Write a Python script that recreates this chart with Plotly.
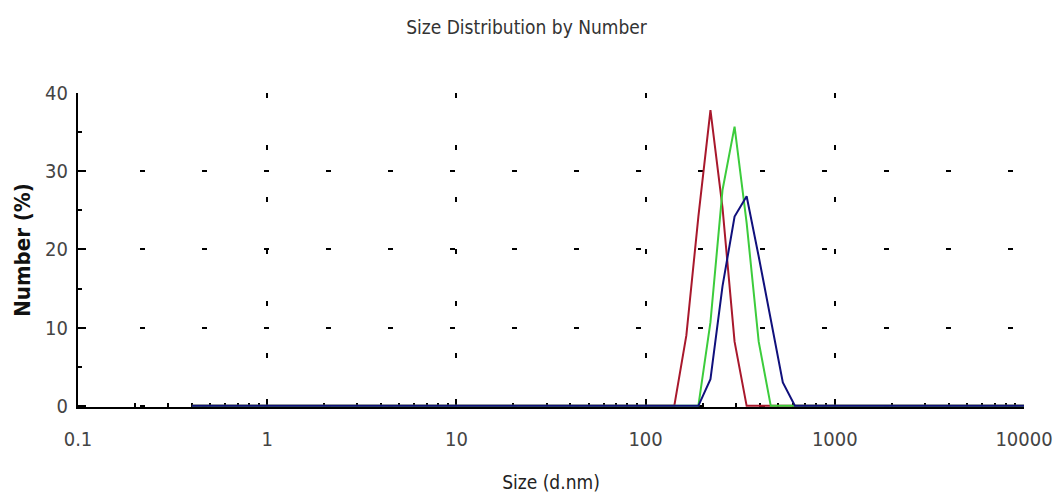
import plotly.graph_objects as go

# Size bins (d.nm), logarithmically spaced as reported by the instrument
size_nm = [0.4, 0.4632, 0.5365, 0.6213, 0.7195, 0.8332, 0.9649, 1.117, 1.294, 1.499,
           1.736, 2.010, 2.328, 2.696, 3.122, 3.615, 4.187, 4.849, 5.615, 6.503,
           7.531, 8.721, 10.10, 11.70, 13.54, 15.69, 18.17, 21.04, 24.36, 28.21,
           32.67, 37.84, 43.82, 50.75, 58.77, 68.06, 78.82, 91.28, 105.7, 122.4,
           141.8, 164.2, 190.1, 220.2, 255.0, 295.3, 342.0, 396.1, 458.7, 531.2,
           615.1, 712.4, 825.0, 955.4, 1106, 1281, 1484, 1718, 1990, 2305,
           2669, 3091, 3580, 4145, 4801, 5560, 6439, 7456, 8635, 10000]

red_pct = [0]*41 + [9.0, 24.2, 37.8, 25.3, 8.2] + [0]*24
green_pct = [0]*43 + [10.7, 27.6, 35.7, 23.4, 8.2] + [0]*22
blue_pct = [0]*43 + [3.4, 15.3, 24.2, 26.8, 19.1, 11.1, 3.0] + [0]*20

x_tickvals = [0.1, 1, 10, 100, 1000, 10000]
x_ticktext = ["0.1", "1", "10", "100", "1000", "10000"]
y_tickvals = [0, 10, 20, 30, 40]

FONT = "DejaVu Sans Condensed, Liberation Sans Narrow, Arial Narrow, sans-serif"

fig = go.Figure()
for vals, col in [(red_pct, "#a8182c"), (green_pct, "#3ccc3c"), (blue_pct, "#10107c")]:
    fig.add_trace(go.Scatter(x=size_nm, y=vals, mode="lines",
                             line=dict(color=col, width=2), showlegend=False))

fig.update_layout(
    width=1053, height=497,
    margin=dict(l=78, r=29, t=93, b=90),
    paper_bgcolor="white", plot_bgcolor="white",
    font=dict(family=FONT, color="#333333"),
    title=dict(text="Size Distribution by Number", x=0.5, xref="container",
               y=1 - 27/497, yref="container", yanchor="middle", xanchor="center",
               font=dict(size=19, family=FONT, color="#333333")),
)
fig.update_xaxes(
    type="log", range=[-1, 4], automargin=False,
    tickvals=x_tickvals, ticktext=x_ticktext,
    ticks="inside", ticklen=8, tickwidth=2, tickcolor="black",
    showline=True, linecolor="black", linewidth=2,
    showgrid=True, gridcolor="black", gridwidth=2, griddash="5px,47px",
    zeroline=False, layer="below traces",
    tickfont=dict(size=20, color="#444444"), ticklabelstandoff=13,
    minor=dict(ticks="inside", ticklen=4, tickwidth=2, tickcolor="black", dtick="D1", showgrid=False),
    title=dict(text="Size (d.nm)", font=dict(size=19, color="#222222"), standoff=26),
)
fig.update_yaxes(
    range=[-0.15, 40], tickvals=y_tickvals, automargin=False,
    ticks="inside", ticklen=8, tickwidth=2, tickcolor="black",
    showline=True, linecolor="black", linewidth=2,
    showgrid=True, gridcolor="black", gridwidth=2, griddash="5px,57px",
    zeroline=False,
    tickfont=dict(size=20, color="#444444"), ticklabelstandoff=4,
    minor=dict(ticks="inside", ticklen=4, tickwidth=2, tickcolor="black", dtick=5, showgrid=False),
    title=dict(text="<b>Number (%)</b>", font=dict(size=22, color="#111111"), standoff=8),
)

fig.write_html("out.html")
